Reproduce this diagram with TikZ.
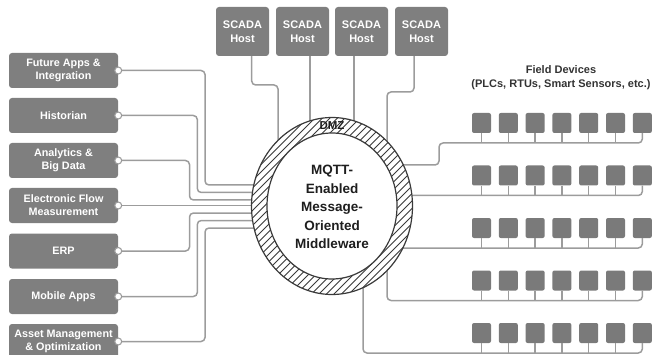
\documentclass[tikz,border=0pt]{standalone}
\usepackage{fontspec}
\setmainfont{Liberation Sans}
\usetikzlibrary{calc}
\definecolor{boxg}{HTML}{7F7F7F}
\definecolor{devg}{HTML}{7A7A7A}
\definecolor{wireg}{HTML}{9C9C9C}
\definecolor{ringg}{HTML}{3A3A3A}
\definecolor{txtd}{HTML}{1E1E1E}
\definecolor{txtf}{HTML}{333333}
\begin{document}
\begin{tikzpicture}[x=1pt,y=-1pt,
 lbox/.style={fill=boxg,rounded corners=3pt,minimum width=109pt,minimum height=35pt,inner sep=0pt,text=white,font=\fontsize{10.8}{13}\selectfont\bfseries,align=center},
 sbox/.style={fill=boxg,rounded corners=3pt,minimum width=53pt,minimum height=49pt,inner sep=0pt,text=white,font=\fontsize{11}{14}\selectfont\bfseries,align=center},
 dev/.style={fill=devg,rounded corners=2pt,minimum width=19pt,minimum height=20pt,inner sep=0pt},
 wire/.style={draw=wireg,line width=1.5pt,rounded corners=4pt},
 port/.style={circle,draw=wireg,fill=white,line width=1.1pt,minimum size=7pt,inner sep=0pt},
]
\useasboundingbox (0,0) rectangle (652,355);
\coordinate (mw) at (332,206);

% left boxes
\node[lbox] (l1) at (63.5,70.5) {Future Apps \&\\Integration};
\node[lbox] (l2) at (63.5,115.5) {Historian};
\node[lbox] (l3) at (63.5,160.5) {Analytics \&\\Big Data};
\node[lbox] (l4) at (63.5,205.5) {Electronic Flow\\Measurement};
\node[lbox] (l5) at (63.5,251) {ERP};
\node[lbox] (l6) at (63.5,296.5) {Mobile Apps};
\node[lbox] (l7) at (63.5,341.5) {Asset Management\\\& Optimization};

% SCADA hosts
\node[sbox] (s1) at (242.5,31.5) {SCADA\\Host};
\node[sbox] (s2) at (302.5,31.5) {SCADA\\Host};
\node[sbox] (s3) at (361.5,31.5) {SCADA\\Host};
\node[sbox] (s4) at (421.5,31.5) {SCADA\\Host};

% field devices
\node[font=\fontsize{11}{14}\selectfont\bfseries,text=txtf,align=center] (fd) at (561,78) {Field Devices\\(PLCs, RTUs, Smart Sensors, etc.)};
\foreach \r/\yy in {1/123,2/175.5,3/228,4/280.5,5/333}{
  \foreach \c in {1,...,7}{
    \node[dev] (d\r\c) at ({481.5+26.8*(\c-1)},\yy) {};
  }
  \foreach \c in {1,...,6}{
    \draw[wire] (d\r\c.south) -- ++(0,10);
  }
}

% left wires
\draw[wire] (l1.east) -| (205,185) -- (mw |- 0,185);
\draw[wire] (l2.east) -| (197.3,192.5) -- (mw |- 0,192.5);
\draw[wire] (l3.east) -| (189.5,200) -- (mw |- 0,200);
\draw[wire] (l4.east) -- (mw |- l4.east);
\draw[wire] (l5.east) -| (189.5,213) -- (mw |- 0,213);
\draw[wire] (l6.east) -| (197.3,220.5) -- (mw |- 0,220.5);
\draw[wire] (l7.east) -| (205,228) -- (mw |- 0,228);

% SCADA wires
\draw[wire] ([xshift=9.2pt]s1.south) |- (278,85) -- (mw -| 278,0);
\draw[wire] ([xshift=7.5pt]s2.south) -- (mw -| 310,0);
\draw[wire] ([xshift=-7.5pt]s3.south) -- (mw -| 354,0);
\draw[wire] ([xshift=-7.5pt]s4.south) |- (387,92) -- (mw -| 387,0);

% field wires
\draw[wire] (mw |- 0,165) -| (439,143) -- (d17.south |- 0,143) -- (d17.south);
\draw[wire] (mw |- 0,195.5) -- (d27.south |- 0,195.5) -- (d27.south);
\draw[wire] (mw |- 0,248) -- (d37.south |- 0,248) -- (d37.south);
\draw[wire] (mw -| 387,0) |- (d47.south |- 0,300.5) -- (d47.south);
\draw[wire] (mw -| 363,0) |- (d57.south |- 0,353) -- (d57.south);

% ports
\foreach \i in {1,...,7}{ \node[port] (p\i) at (l\i.east) {}; }

% middleware ring
\fill[white] (mw) ellipse [x radius=80.5pt,y radius=88.5pt];
\begin{scope}
  \clip (mw) ellipse [x radius=80.5pt,y radius=88.5pt];
  \foreach \k in {-26,...,26}{
    \draw[ringg,line width=0.8pt] ($(mw)+({\k*7.5-200},200)$) -- ++(400,-400);
  }
\end{scope}
\fill[white] (mw) ellipse [x radius=65pt,y radius=73pt];
\draw[ringg,line width=1.2pt] (mw) ellipse [x radius=80.5pt,y radius=88.5pt];
\draw[ringg,line width=1.2pt] (mw) ellipse [x radius=65pt,y radius=73pt];
\node[font=\fontsize{11.5}{13}\selectfont\bfseries,text=txtd,inner sep=0.5pt] (dmz) at (332,126) {DMZ};
\node[font=\fontsize{13.5}{18.5}\selectfont\bfseries,text=txtd,align=center] (mwt) at (332,207) {MQTT-\\Enabled\\Message-\\Oriented\\Middleware};
\end{tikzpicture}
\end{document}
